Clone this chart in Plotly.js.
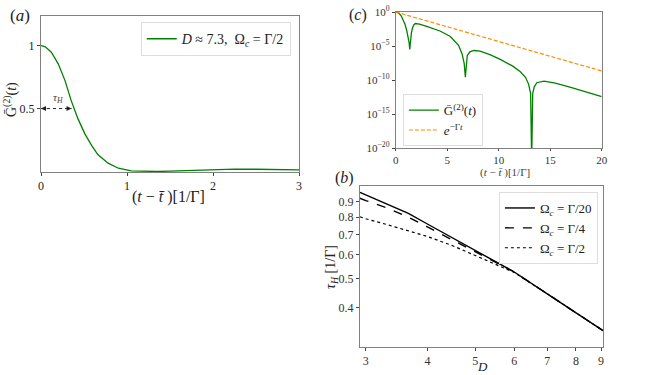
<!DOCTYPE html>
<html>
<head>
<meta charset="utf-8">
<script src="https://cdn.plot.ly/plotly-3.0.1.min.js"></script>
<style>
  html, body { margin: 0; padding: 0; background: #fff; }
  #plot { width: 667px; height: 375px; }
</style>
</head>
<body>
<div id="plot"></div>
<script>
// (a) G(t), linear scale
const tA = [0, 0.05, 0.12, 0.2, 0.28, 0.35, 0.43, 0.51, 0.59, 0.66, 0.78, 0.9, 1.05, 1.2, 1.35, 1.5, 1.75, 2.0, 2.25, 2.5, 2.75, 3.0];
const gA = [1.0, 0.99, 0.947, 0.855, 0.72, 0.565, 0.418, 0.299, 0.206, 0.135, 0.066, 0.026, 0.005, 0.0, 0.0, 0.003, 0.01, 0.016, 0.019, 0.018, 0.015, 0.013];
const tauH = 0.355;

// (c) |G(t)| on log scale, plus e^{-Γt}
const tC = [0, 0.3, 0.54, 0.75, 0.9, 1.05, 1.2, 1.3, 1.36, 1.42, 1.52, 1.62, 1.75, 1.9, 2.3, 3.0, 4.3, 5.3, 6.1, 6.45, 6.65, 6.76, 6.85, 6.95, 7.2, 7.6, 8.2, 9.2, 10.2, 11.4, 12.1, 12.6, 12.9, 13.1, 13.2, 13.3, 13.45, 13.7, 14.4, 15.5, 17, 18.5, 20];
const gC = [1, 0.71, 0.25, 0.063, 0.016, 2.5e-3, 3.2e-4, 3.2e-5, 3.2e-6, 6.3e-5, 7.9e-4, 4e-3, 1.26e-2, 2e-2, 1.6e-2, 7.9e-3, 1.6e-3, 2.5e-4, 1.26e-5, 6.3e-7, 2.5e-8, 2.5e-10, 6.3e-8, 4e-7, 1.4e-6, 2.2e-6, 1.8e-6, 5e-7, 1e-7, 1e-8, 1.6e-9, 2.5e-10, 2.5e-11, 1e-12, 1e-22, 1e-12, 1e-11, 4e-11, 7e-11, 3.5e-11, 8e-12, 1.8e-12, 3.5e-13];
const tExp = [0, 20];
const gExp = [1, 2.1e-9];

// (b) tau_H vs D
const dB = [2.92, 3, 3.3, 3.66, 4, 4.5, 5, 5.5, 6, 7, 8, 9.08];
const tau20 = [0.967, 0.948, 0.886, 0.823, 0.759, 0.683, 0.62, 0.569, 0.526, 0.445, 0.386, 0.336];
const tau4 = [0.924, 0.908, 0.86, 0.80, 0.742, 0.672, 0.616, 0.568, 0.526, 0.445, 0.386, 0.336];
const tau2 = [0.802, 0.79, 0.757, 0.722, 0.69, 0.643, 0.597, 0.558, 0.524, 0.445, 0.386, 0.336];

const serif = 'Liberation Serif, DejaVu Serif, serif';
const green = '#008000';

const frame = {
    showline: true, mirror: true, linecolor: '#808080', linewidth: 1,
    ticks: 'outside', ticklen: 3, tickcolor: '#444',
    showgrid: false, zeroline: false, fixedrange: true,
    tickfont: { family: serif, size: 12, color: '#222' }
};

const data = [
    { x: tA, y: gA, xaxis: 'x', yaxis: 'y', mode: 'lines', line: { color: green, width: 1.3 },
      name: '<i>D</i> ≈ 7.3,&nbsp;&nbsp;Ω<sub><i>c</i></sub> = Γ/2', legend: 'legend', showlegend: true },

    { x: tC, y: gC, xaxis: 'x2', yaxis: 'y2', mode: 'lines', line: { color: green, width: 1.3 },
      name: 'Ḡ<sup>(2)</sup>(<i>t</i>)', legend: 'legend2' },
    { x: tExp, y: gExp, xaxis: 'x2', yaxis: 'y2', mode: 'lines', line: { color: 'darkorange', width: 1.2, dash: '4px,2px' },
      name: '<i>e</i><sup>−Γ<i>t</i></sup>', legend: 'legend2' },

    { x: dB, y: tau20, xaxis: 'x3', yaxis: 'y3', mode: 'lines', line: { color: 'black', width: 1.4 },
      name: 'Ω<sub><i>c</i></sub> = Γ/20', legend: 'legend3' },
    { x: dB, y: tau4, xaxis: 'x3', yaxis: 'y3', mode: 'lines', line: { color: 'black', width: 1.4, dash: 'dash' },
      name: 'Ω<sub><i>c</i></sub> = Γ/4', legend: 'legend3' },
    { x: dB, y: tau2, xaxis: 'x3', yaxis: 'y3', mode: 'lines', line: { color: 'black', width: 1.2, dash: 'dot' },
      name: 'Ω<sub><i>c</i></sub> = Γ/2', legend: 'legend3' }
];

const legendBox = {
    bgcolor: 'rgba(255,255,255,0.9)', bordercolor: '#dddddd', borderwidth: 1,
    xanchor: 'left', yanchor: 'top', tracegroupgap: 0, visible: true
};

// paper-coordinate text, centred on a pixel position
function label(px, py, text, size, extra) {
    return Object.assign({
        xref: 'paper', yref: 'paper', x: px / 667, y: 1 - py / 375,
        xanchor: 'center', yanchor: 'middle', showarrow: false,
        text: text, font: { family: serif, size: size, color: '#222' }
    }, extra || {});
}

const layout = {
    width: 667, height: 375,
    margin: { l: 0, r: 0, t: 0, b: 0 },
    paper_bgcolor: '#fff', plot_bgcolor: '#fff',
    font: { family: serif, color: '#222' },
    showlegend: true,

    xaxis: Object.assign({}, frame, { domain: [0.0615, 0.4483], anchor: 'y', range: [0, 3],
        tickvals: [0, 1, 2, 3] }),
    yaxis: Object.assign({}, frame, { domain: [0.5413, 0.9573], anchor: 'x', range: [-0.004, 1.235],
        tickvals: [0.5, 1], ticktext: ['0.5', '1'] }),

    xaxis2: Object.assign({}, frame, { domain: [0.5933, 0.9021], anchor: 'y2', range: [0, 20], ticklen: 2,
        tickvals: [0, 5, 10, 15, 20], tickfont: { family: serif, size: 11, color: '#333' } }),
    yaxis2: Object.assign({}, frame, { domain: [0.6053, 0.968], anchor: 'x2', type: 'log', range: [-20, 0],
        tickvals: [1, 1e-5, 1e-10, 1e-15, 1e-20],
        ticktext: ['10<sup>0</sup>', '10<sup>−5</sup>', '10<sup>−10</sup>', '10<sup>−15</sup>', '10<sup>−20</sup>'],
        tickfont: { family: serif, size: 11, color: '#333' } }),

    xaxis3: Object.assign({}, frame, { domain: [0.5397, 0.904], anchor: 'y3', type: 'log', range: [0.4654, 0.958],
        tickvals: [3, 4, 5, 6, 7, 8, 9], ticktext: ['3', '4', '5', '6', '7', '8', '9'],
        tickfont: { family: serif, size: 12, color: '#333' } }),
    yaxis3: Object.assign({}, frame, { domain: [0.0755, 0.504], anchor: 'x3', type: 'log', range: [-0.527, 0.0064],
        tickvals: [0.4, 0.5, 0.6, 0.7, 0.8, 0.9], ticktext: ['0.4', '0.5', '0.6', '0.7', '0.8', '0.9'],
        tickfont: { family: serif, size: 12, color: '#333' } }),

    legend: Object.assign({}, legendBox, { x: 0.211, y: 0.941, font: { family: serif, size: 14, color: '#222' } }),
    legend2: Object.assign({}, legendBox, { x: 0.604, y: 0.749, font: { family: serif, size: 13, color: '#222' } }),
    legend3: Object.assign({}, legendBox, { x: 0.748, y: 0.488, font: { family: serif, size: 13, color: '#222' } }),

    shapes: [
        { type: 'line', xref: 'x', yref: 'y', x0: 0, x1: tauH, y0: 0.5, y1: 0.5,
          line: { color: '#222', width: 1, dash: 'dot' } }
    ],

    annotations: [
        // arrow heads of tau_H marker
        { xref: 'x', yref: 'y', x: 0, y: 0.5, axref: 'x', ayref: 'y', ax: 0.08, ay: 0.5,
          showarrow: true, arrowhead: 2, arrowsize: 1, arrowwidth: 1, arrowcolor: '#222', text: '' },
        { xref: 'x', yref: 'y', x: tauH, y: 0.5, axref: 'x', ayref: 'y', ax: tauH - 0.08, ay: 0.5,
          showarrow: true, arrowhead: 2, arrowsize: 1, arrowwidth: 1, arrowcolor: '#222', text: '' },
        { xref: 'x', yref: 'y', x: 0.2, y: 0.51, xanchor: 'center', yanchor: 'bottom', showarrow: false,
          text: '<i>τ<sub>H</sub></i>', font: { family: serif, size: 11, color: '#444' } },

        // panel labels
        label(20, 16, '(<i>a</i>)', 17),
        label(358, 15, '(<i>c</i>)', 16),
        label(344, 178, '(<i>b</i>)', 16),

        // axis titles
        label(168, 197, '(<i>t</i> − <i>t̄</i> )[1/Γ]', 16),
        label(11, 100, 'Ḡ<sup>(2)</sup>(<i>t</i>)', 14, { textangle: -90 }),
        label(505, 172, '(<i>t</i> − <i>t̄</i> )[1/Γ]', 11, { font: { family: serif, size: 11, color: '#444' } }),
        label(331, 267, '<i>τ<sub>H</sub></i> [1/Γ]', 14, { textangle: -90 }),
        label(482, 366, '<i>D</i>', 13)
    ]
};

Plotly.newPlot('plot', data, layout, { displayModeBar: false, staticPlot: true });
</script>
</body>
</html>
